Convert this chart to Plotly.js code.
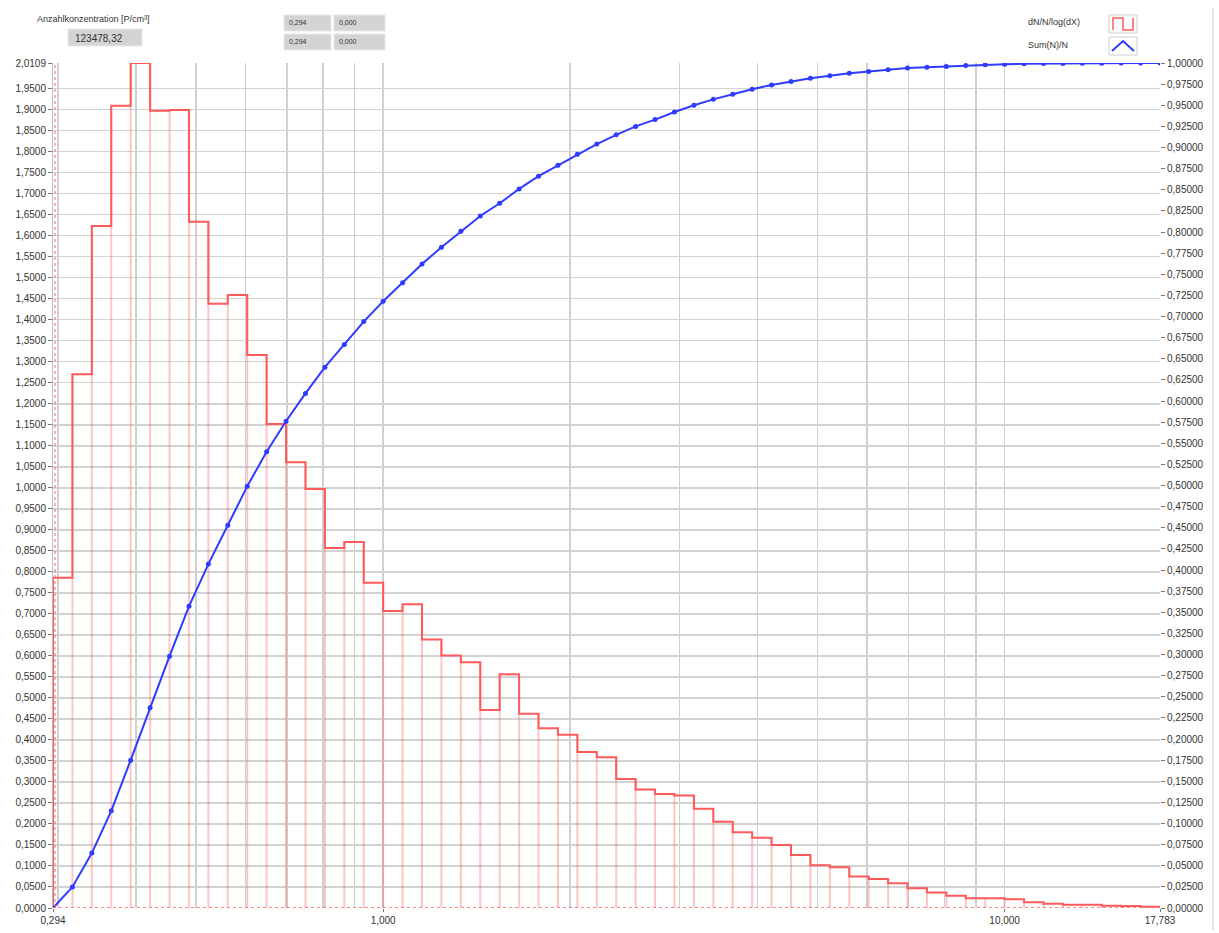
<!DOCTYPE html>
<html>
<head>
<meta charset="utf-8">
<script src="https://cdn.plot.ly/plotly-3.0.1.min.js"></script>
<style>
html,body{margin:0;padding:0;background:#fff;}
#chart{width:1219px;height:933px;}
</style>
</head>
<body>
<div id="chart"></div>
<script>
// Channel boundaries (size, log scale, 32 channels per decade)
const binEdges = [0.29427,0.31623,0.33982,0.36517,0.39242,0.42170,0.45316,0.48697,0.52330,0.56234,
  0.60430,0.64938,0.69783,0.74989,0.80584,0.86596,0.93057,1.00000,1.07461,1.15478,
  1.24094,1.33352,1.43301,1.53993,1.65482,1.77828,1.91095,2.05353,2.20673,2.37137,
  2.54830,2.73842,2.94272,3.16228,3.39821,3.65174,3.92419,4.21697,4.53158,4.86968,
  5.23299,5.62341,6.04296,6.49382,6.97831,7.49894,8.05842,8.65964,9.30572,10.0000,
  10.7461,11.5478,12.4094,13.3352,14.3301,15.3993,16.5482,17.7828];

// dN/N/log(dX) per channel
const dNdlogX = [0.786,1.270,1.623,1.909,2.0109,1.897,1.899,1.633,1.438,1.459,
  1.316,1.152,1.061,0.997,0.857,0.871,0.774,0.707,0.723,0.639,
  0.601,0.585,0.471,0.556,0.462,0.428,0.412,0.371,0.359,0.307,
  0.282,0.271,0.268,0.236,0.205,0.180,0.167,0.150,0.126,0.102,
  0.097,0.075,0.069,0.059,0.047,0.037,0.029,0.023,0.023,0.021,
  0.0135,0.010,0.008,0.008,0.0055,0.005,0.003];

// Sum(N)/N at each channel boundary
const sumN = [0,0.025,0.065,0.115,0.175,0.237,0.298,0.357,0.407,0.453,
  0.499,0.540,0.576,0.609,0.640,0.667,0.694,0.718,0.740,0.762,
  0.782,0.801,0.819,0.834,0.851,0.866,0.879,0.892,0.904,0.915,
  0.925,0.933,0.942,0.950,0.957,0.963,0.969,0.974,0.978,0.982,
  0.985,0.988,0.990,0.992,0.994,0.995,0.996,0.997,0.998,0.9985,
  0.999,0.9993,0.9995,0.9997,0.9998,0.9999,1.0,1.0];

const xTickVals = [0.29427,1,10,17.7828];
const xTickText = ['0,294','1,000','10,000','17,783'];
const xMinorGrid = [0.3,0.4,0.5,0.6,0.7,0.8,0.9,2,3,4,5,6,7,8,9];
const yMax = 2.0109;

// left axis ticks
const yTickVals = [], yTickText = [];
for (let i = 0; i <= 39; i++) { const v = i*0.05; yTickVals.push(v); yTickText.push(v.toFixed(4).replace('.',',')); }
yTickVals.push(yMax); yTickText.push('2,0109');
// right axis ticks
const y2TickVals = [], y2TickText = [];
for (let i = 0; i <= 40; i++) { const v = i*0.025; y2TickVals.push(v); y2TickText.push(v.toFixed(5).replace('.',',')); }

// step outline
const stepX = [binEdges[0]], stepY = [0];
for (let i = 0; i < dNdlogX.length; i++) { stepX.push(binEdges[i]); stepY.push(dNdlogX[i]); }
stepX.push(binEdges[binEdges.length-1]); stepY.push(0);

// thin bar edges
const edgeX = [], edgeY = [];
for (let k = 0; k < binEdges.length; k++) {
  const a = k > 0 ? dNdlogX[k-1] : 0;
  const b = k < dNdlogX.length ? dNdlogX[k] : 0;
  edgeX.push(binEdges[k], binEdges[k], null);
  edgeY.push(0, Math.max(a,b), null);
}

const traces = [
  {x: edgeX, y: edgeY, type:'scatter', mode:'lines', line:{color:'rgba(255,90,90,0.35)', width:2}, hoverinfo:'skip', showlegend:false},
  {x: stepX, y: stepY, type:'scatter', mode:'lines', line:{color:'#ff5a5a', width:2, shape:'hv'}, name:'dN/N/log(dX)', showlegend:false},
  {x: binEdges, y: sumN, type:'scatter', mode:'lines+markers', yaxis:'y2', line:{color:'#2f3cff', width:2}, marker:{color:'#2f3cff', size:5}, name:'Sum(N)/N', showlegend:false}
];

const PL=53, PR=1160, PT=63, PB=908;
function fx(px){return (px-PL)/(PR-PL);}
function fy(py){return (PB-py)/(PB-PT);}
const tfont = {family:'Liberation Sans, Arial, sans-serif', size:10, color:'#333'};

function box(x0,y0,x1,y1){return {type:'rect', xref:'paper', yref:'paper', x0:fx(x0), x1:fx(x1), y0:fy(y1), y1:fy(y0), fillcolor:'#d4d4d4', line:{color:'#e8e8e8', width:1}};}
function txt(t,px,py,size,anchor){return {text:t, xref:'paper', yref:'paper', x:fx(px), y:fy(py), xanchor:anchor||'left', yanchor:'middle', showarrow:false, font:{family:'Liberation Sans, Arial, sans-serif', size:size, color:'#333'}};}

const shapes = [
  box(68,29,142,46), box(284,15,331,31), box(334,15,385,31), box(284,34,331,50), box(334,34,385,50),
  {type:'rect', xref:'paper', yref:'paper', x0:fx(1109), x1:fx(1137), y0:fy(33), y1:fy(15), fillcolor:'#fff', line:{color:'#cfcfcf', width:1}},
  {type:'rect', xref:'paper', yref:'paper', x0:fx(1109), x1:fx(1137), y0:fy(55), y1:fy(37), fillcolor:'#fff', line:{color:'#cfcfcf', width:1}},
  {type:'path', xref:'paper', yref:'paper', path:`M ${fx(1113)} ${fy(30)} L ${fx(1113)} ${fy(18)} L ${fx(1123)} ${fy(18)} L ${fx(1123)} ${fy(30)} L ${fx(1133)} ${fy(30)} L ${fx(1133)} ${fy(18)}`, line:{color:'#ff5a5a', width:1.5}},
  {type:'path', xref:'paper', yref:'paper', path:`M ${fx(1112)} ${fy(51)} L ${fx(1123)} ${fy(41)} L ${fx(1134)} ${fy(51)}`, line:{color:'#2f3cff', width:2}},
  {type:'line', xref:'paper', yref:'y', x0:0, x1:1, y0:0, y1:0, line:{color:'#ff6060', width:1.5, dash:'dot'}},
  {type:'line', xref:'paper', yref:'paper', x0:fx(55), x1:fx(55), y0:0, y1:1, line:{color:'#ff6060', width:1, dash:'dot'}},
  {type:'line', xref:'paper', yref:'paper', x0:fx(1213), x1:fx(1213), y0:fy(930), y1:fy(8), line:{color:'#d8d8d8', width:1.5}}
];

const annotations = [
  txt('Anzahlkonzentration [P/cm³]', 35, 19, 9),
  txt('123478,32', 73, 38, 10),
  txt('0,294', 287, 23, 7), txt('0,000', 337, 23, 7),
  txt('0,294', 287, 42, 7), txt('0,000', 337, 42, 7),
  txt('dN/N/log(dX)', 1026, 22, 9),
  txt('Sum(N)/N', 1026, 45, 9)
];

const layout = {
  width:1219, height:933,
  margin:{l:PL, r:1219-PR, t:PT, b:933-PB, pad:0},
  paper_bgcolor:'#fff', plot_bgcolor:'#fff',
  showlegend:false,
  font: tfont,
  xaxis:{type:'log', range:[Math.log10(0.29427), Math.log10(17.7828)], tickmode:'array', tickvals:xTickVals, ticktext:xTickText,
    showgrid:true, gridcolor:'#cfcfcf', gridwidth:1.5, ticks:'outside', ticklen:3, tickcolor:'#777', zeroline:false, showline:false,
    tickfont:tfont, minor:{tickmode:'array', tickvals:xMinorGrid, showgrid:true, gridcolor:'#cfcfcf', gridwidth:1.5, ticks:''}},
  yaxis:{range:[0,yMax], tickmode:'array', tickvals:yTickVals, ticktext:yTickText, showgrid:true, gridcolor:'#d2d2d2', gridwidth:1.5,
    ticks:'outside', ticklen:4, tickcolor:'#777', zeroline:false, showline:true, linecolor:'#bbb', linewidth:1, tickfont:tfont},
  yaxis2:{range:[0,1], overlaying:'y', side:'right', tickmode:'array', tickvals:y2TickVals, ticktext:y2TickText, showgrid:false,
    ticks:'outside', ticklen:4, tickcolor:'#777', zeroline:false, showline:false, tickfont:tfont},
  shapes: shapes,
  annotations: annotations
};

Plotly.newPlot('chart', traces, layout, {displayModeBar:false, staticPlot:true});
</script>
</body>
</html>
